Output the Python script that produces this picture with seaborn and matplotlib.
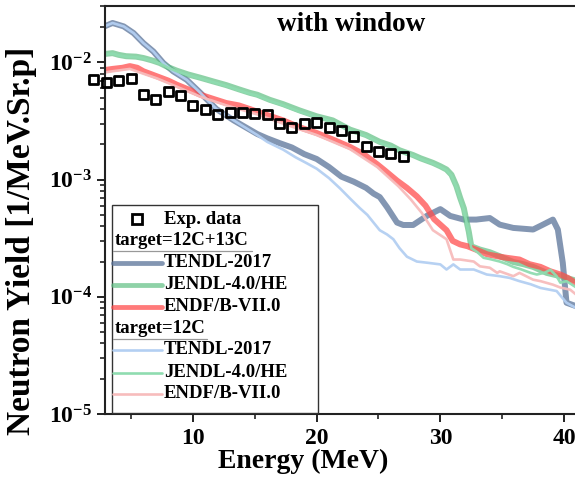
import numpy as np
import pandas as pd
import matplotlib
matplotlib.use("Agg")
import matplotlib.pyplot as plt
import seaborn as sns
from matplotlib.ticker import FixedLocator, FuncFormatter, LogLocator, NullFormatter
from matplotlib.lines import Line2D
from matplotlib.patches import Rectangle

# ---------------- data ----------------
exp_E = [2, 3, 4, 5, 6, 7, 8, 9, 10, 11, 12, 13, 14, 15, 16, 17, 18, 19, 20,
         21, 22, 23, 24, 25, 26, 27]
exp_Y = [7.12e-3, 6.76e-3, 7.03e-3, 7.22e-3, 5.31e-3, 4.81e-3, 5.66e-3, 5.20e-3,
         4.28e-3, 3.95e-3, 3.58e-3, 3.71e-3, 3.71e-3, 3.66e-3, 3.58e-3, 3.00e-3,
         2.76e-3, 3.04e-3, 3.08e-3, 2.76e-3, 2.63e-3, 2.34e-3, 1.92e-3, 1.74e-3,
         1.67e-3, 1.56e-3]

# target = 12C+13C
tendl_mix_E = [2.85, 3.5, 4.4, 5.2, 6.0, 6.8, 7.6, 8.4, 9.5, 10.6, 11.9, 13.3,
               15.2, 16.0, 17.0, 18.0, 19.0, 20.0, 21.0, 22.0, 23.0, 24.0, 24.6,
               25.1, 25.7, 26.5, 27.0, 27.8, 28.9, 30.0, 30.8, 31.9, 32.9, 34.0,
               34.8, 35.9, 37.5, 38.3, 39.1, 39.5, 39.9, 40.2, 41.0]
tendl_mix_Y = [0.0203, 0.0217, 0.0203, 0.0178, 0.0146, 0.0124, 0.0099, 0.0084,
               0.0071, 0.0055, 0.0040, 0.0032, 0.00245, 0.00225, 0.00205, 0.00188,
               0.00165, 0.00150, 0.00128, 0.00106, 0.00096, 0.00085, 0.00076,
               0.00071, 0.00058, 0.00043, 0.00041, 0.00041, 0.00049, 0.00056,
               0.00049, 0.000456, 0.000456, 0.00047, 0.000413, 0.000387, 0.000375,
               0.000413, 0.000456, 0.000375, 0.000195, 0.000089, 0.000083]

jendl_mix_E = [2.85, 3.5, 4.0, 4.6, 5.4, 6.0, 6.7, 7.3, 8.0, 8.7, 9.6, 10.6, 11.6,
               12.7, 13.7, 14.6, 15.2, 16.2, 17.3, 18.6, 20.0, 21.3, 22.7, 24.0,
               25.1, 26.0, 26.7, 27.8, 28.4, 29.4, 30.0, 30.5, 30.9, 31.3, 31.6,
               31.9, 32.1, 32.3, 32.5, 33.2, 34.0, 34.8, 35.9, 36.7, 37.5, 38.6,
               39.7, 41.0]
jendl_mix_Y = [0.0118, 0.0120, 0.0116, 0.0113, 0.0112, 0.0109, 0.0104, 0.0099,
               0.0091, 0.0085, 0.0079, 0.0074, 0.0069, 0.0064, 0.0059, 0.0055,
               0.0053, 0.0048, 0.0044, 0.0039, 0.00347, 0.0032, 0.00267, 0.0024,
               0.0021, 0.00195, 0.00178, 0.00162, 0.00152, 0.00139, 0.0013,
               0.00122, 0.0011, 0.00088, 0.0007, 0.00057, 0.00045, 0.00036,
               0.00027, 0.000253, 0.00024, 0.000222, 0.000198, 0.00019, 0.00018,
               0.00016, 0.00015, 0.000137]

endf_mix_E = [2.85, 3.5, 4.3, 4.9, 5.5, 6.0, 7.1, 8.0, 8.7, 9.6, 10.6, 11.6, 12.7,
              13.7, 14.6, 15.2, 16.2, 17.3, 18.6, 20.0, 21.3, 22.7, 23.8, 24.9,
              25.5, 26.5, 27.3, 28.1, 28.8, 29.5, 30.5, 31.0, 31.6, 32.2, 33.2,
              33.8, 34.8, 35.4, 36.4, 37.2, 38.1, 38.9, 39.7, 40.3, 41.0]
endf_mix_Y = [0.0086, 0.0088, 0.0090, 0.0093, 0.0090, 0.0084, 0.0076, 0.0070,
              0.00645, 0.0059, 0.0053, 0.0049, 0.0045, 0.0043, 0.0040, 0.0038,
              0.0035, 0.0032, 0.0028, 0.0025, 0.0022, 0.0019, 0.00165, 0.00135,
              0.0012, 0.00098, 0.00085, 0.00072, 0.0006, 0.00046, 0.00037, 0.0003,
              0.00028, 0.00027, 0.000245, 0.00023, 0.00022, 0.000215, 0.000208,
              0.00019, 0.00018, 0.000165, 0.000155, 0.000145, 0.00013]

# target = 12C
tendl_c12_E = [2.85, 3.5, 4.4, 5.2, 6.0, 6.8, 7.6, 8.4, 9.5, 10.6, 11.9, 13.3,
               15.2, 16.0, 17.3, 18.3, 19.2, 20.0, 21.0, 21.9, 22.7, 23.5, 24.1,
               25.1, 25.7, 26.2, 26.7, 27.3, 28.1, 29.0, 30.0, 30.5, 31.05, 31.6,
               32.7, 33.75, 34.8, 35.6, 36.4, 37.3, 38.1, 39.4, 40.2, 41.0]
tendl_c12_Y = [0.0203, 0.0217, 0.0203, 0.0178, 0.0146, 0.0124, 0.0099, 0.0084,
               0.0071, 0.0055, 0.0040, 0.0032, 0.0024, 0.0021, 0.0018, 0.00155,
               0.00138, 0.00124, 0.00103, 0.00084, 0.00069, 0.00057, 0.00050,
               0.00037, 0.00034, 0.00031, 0.00026, 0.00022, 0.0002, 0.000195,
               0.000189, 0.000171, 0.000189, 0.000171, 0.000171, 0.000155,
               0.00015, 0.000145, 0.000136, 0.000128, 0.000119, 0.000112,
               0.000089, 0.00008]

jendl_c12_E = [2.85, 3.5, 4.0, 4.6, 5.4, 6.0, 6.7, 7.3, 8.0, 8.7, 9.6, 10.6, 11.6,
               12.7, 13.7, 14.6, 15.2, 16.2, 17.3, 18.6, 20.0, 21.3, 22.7, 24.0,
               25.1, 26.0, 26.7, 27.8, 28.4, 29.4, 30.0, 30.5, 30.9, 31.3, 31.6,
               31.9, 32.1, 32.3, 32.5, 33.0, 33.5, 34.0, 34.8, 35.4, 35.9, 36.5,
               37.3, 37.8, 38.4, 38.9, 39.4, 39.7, 40.2, 41.0]
jendl_c12_Y = [0.0117, 0.0119, 0.0115, 0.0112, 0.0111, 0.0108, 0.0103, 0.0098,
               0.0090, 0.0084, 0.0078, 0.0073, 0.0068, 0.0063, 0.0058, 0.0054,
               0.0052, 0.0047, 0.0043, 0.0038, 0.00343, 0.0031, 0.00262, 0.00235,
               0.00206, 0.00191, 0.00175, 0.0016, 0.0015, 0.00137, 0.00128,
               0.0012, 0.00108, 0.00086, 0.00068, 0.00055, 0.00044, 0.00035,
               0.00026, 0.00024, 0.000215, 0.00021, 0.0002, 0.00019, 0.00018,
               0.000172, 0.00016, 0.000155, 0.00016, 0.00017, 0.00015, 0.000132,
               0.000136, 0.00012]

endf_c12_E = [2.85, 3.5, 4.9, 6.0, 7.1, 8.7, 10.6, 12.7, 15.2, 17.3, 20.0, 22.7,
              24.9, 25.5, 26.6, 27.6, 28.5, 29.4, 30.5, 31.05, 31.6, 32.7, 33.2,
              34.0, 34.6, 34.8, 35.9, 36.4, 37.5, 38.1, 39.1, 39.7, 40.5, 41.0]
endf_c12_Y = [0.0082, 0.0084, 0.0088, 0.0080, 0.0073, 0.0062, 0.0051, 0.0043,
              0.0036, 0.0030, 0.0024, 0.00182, 0.00128, 0.00112, 0.00088, 0.00068,
              0.00052, 0.00037, 0.00031, 0.000208, 0.000208, 0.0002, 0.000182,
              0.000177, 0.00016, 0.000165, 0.00015, 0.00016, 0.00014, 0.000136,
              0.000127, 0.00012, 0.000115, 0.000104]

x_major = [10, 20, 30, 40]
x_minor = [5, 15, 25, 35]
y_major = [1e-5, 1e-4, 1e-3, 1e-2]

legend_labels = ["TENDL-2017", "JENDL-4.0/HE", "ENDF/B-VII.0"]

# ---------------- style ----------------
sns.set_theme(style="ticks")
plt.rcParams["font.family"] = ["Liberation Serif", "DejaVu Serif"]
plt.rcParams["font.weight"] = "bold"
plt.rcParams["text.color"] = "black"
plt.rcParams["axes.labelcolor"] = "black"
plt.rcParams["mathtext.fontset"] = "custom"
plt.rcParams["mathtext.rm"] = "Liberation Serif:bold"
plt.rcParams["mathtext.bf"] = "Liberation Serif:bold"
plt.rcParams["mathtext.it"] = "Liberation Serif:bold"

thick_colors = ["#5a7399", "#5fbf82", "#ff4d4d"]
thick_alpha = [0.75, 0.7, 0.75]
thin_colors = ["#b3cff2", "#8fdcb0", "#f7bcbc"]
LW_THICK = 4.3
LW_THIN = 1.9

fig = plt.figure(figsize=(5.75, 4.83), dpi=100)
ax = fig.add_axes([104.5 / 575, 69 / 483, (576.4 - 104.5) / 575, (414 - 6.5) / 483])

thick_series = [(tendl_mix_E, tendl_mix_Y), (jendl_mix_E, jendl_mix_Y), (endf_mix_E, endf_mix_Y)]
thin_series = [(tendl_c12_E, tendl_c12_Y), (jendl_c12_E, jendl_c12_Y), (endf_c12_E, endf_c12_Y)]

for (E, Y), c, a in zip(thick_series, thick_colors, thick_alpha):
    sns.lineplot(x=E, y=Y, ax=ax, color=c, lw=LW_THICK, alpha=a,
                 estimator=None, sort=False, legend=False)
for (E, Y), c in zip(thin_series, thin_colors):
    sns.lineplot(x=E, y=Y, ax=ax, color=c, lw=LW_THIN, alpha=0.95,
                 estimator=None, sort=False, legend=False)

sns.scatterplot(x=exp_E, y=exp_Y, ax=ax, marker="s", s=42, facecolor="none",
                edgecolor="black", linewidth=2.0, clip_on=False, zorder=5, legend=False)

ax.set_yscale("log")
ax.set_xlim(2.85, 41.0)
ax.set_ylim(1e-5, 0.030)

ax.xaxis.set_major_locator(FixedLocator(x_major))
ax.xaxis.set_minor_locator(FixedLocator(x_minor))
ax.yaxis.set_major_locator(FixedLocator(y_major))
ax.yaxis.set_minor_locator(LogLocator(base=10, subs=np.arange(2, 10)))
ax.yaxis.set_minor_formatter(NullFormatter())
ax.yaxis.set_major_formatter(FuncFormatter(
    lambda v, p: r"$\mathbf{10^{%d}}$" % int(round(np.log10(v)))))
ax.xaxis.set_major_formatter(FuncFormatter(lambda v, p: "%d" % v))

for side in ["left", "bottom", "top"]:
    ax.spines[side].set_linewidth(1.5)
    ax.spines[side].set_color("#222222")
ax.spines["right"].set_visible(False)

ax.tick_params(axis="both", which="major", direction="out", length=6, width=1.4,
               labelsize=17, colors="#222222", labelcolor="black")
ax.tick_params(axis="both", which="minor", direction="out", length=3.5, width=1.2,
               colors="#222222")
ax.tick_params(axis="x", which="major", pad=4)
ax.tick_params(axis="y", which="major", pad=3)
for lab in ax.get_xticklabels() + ax.get_yticklabels():
    lab.set_fontweight("bold")

ax.set_xlabel("Energy (MeV)", fontsize=20, fontweight="bold", labelpad=1)
ax.xaxis.set_label_coords(0.4217, -0.085)
ax.set_ylabel("Neutron Yield [1/MeV.Sr.p]", fontsize=24, fontweight="bold", labelpad=2)
ax.yaxis.set_label_coords(-0.142, 0.425)
ax.text(0.523, 0.955, "with window", transform=ax.transAxes, ha="center", va="center",
        fontsize=19.5, fontweight="bold")

# ---------------- legend (manual) ----------------
ax.add_patch(Rectangle((0.0159, 0.0025), 0.4365, 0.5105, transform=ax.transAxes,
                       facecolor="white", edgecolor="#333333", lw=1.0, zorder=6))
fs_leg = 13.5
hx0, hx1, tx = 0.018, 0.122, 0.126
rows = [0.478, 0.425, 0.371, 0.317, 0.263, 0.209, 0.1575, 0.101, 0.0495]

ax.add_line(Line2D([0.069], [rows[0]], transform=ax.transAxes, marker="s",
                   markersize=6.5, markerfacecolor="none", markeredgecolor="black",
                   markeredgewidth=2.0, linestyle="none", zorder=7))
ax.text(tx, rows[0], "Exp. data", transform=ax.transAxes, va="center", ha="left",
        fontsize=fs_leg, fontweight="bold", zorder=7)

for r, txt, uend in [(rows[1], "target=12C+13C", 0.312), (rows[5], "target=12C", 0.218)]:
    ax.text(0.022, r, txt, transform=ax.transAxes, va="center", ha="left",
            fontsize=fs_leg, fontweight="bold", zorder=7)
    ax.add_line(Line2D([0.018, uend], [r - 0.024, r - 0.024], transform=ax.transAxes,
                       color="#999999", lw=0.9, zorder=7))

for i in range(3):
    r = rows[2 + i]
    ax.add_line(Line2D([hx0, hx1], [r, r], transform=ax.transAxes,
                       color=thick_colors[i], alpha=thick_alpha[i], lw=LW_THICK * 0.8,
                       solid_capstyle="round", zorder=7))
    ax.text(tx, r, legend_labels[i], transform=ax.transAxes, va="center", ha="left",
            fontsize=fs_leg, fontweight="bold", zorder=7)
    r2 = rows[6 + i]
    ax.add_line(Line2D([hx0, hx1], [r2, r2], transform=ax.transAxes,
                       color=thin_colors[i], lw=LW_THIN, zorder=7))
    ax.text(tx, r2, legend_labels[i], transform=ax.transAxes, va="center", ha="left",
            fontsize=fs_leg, fontweight="bold", zorder=7)

fig.savefig("out.png", dpi=100)
